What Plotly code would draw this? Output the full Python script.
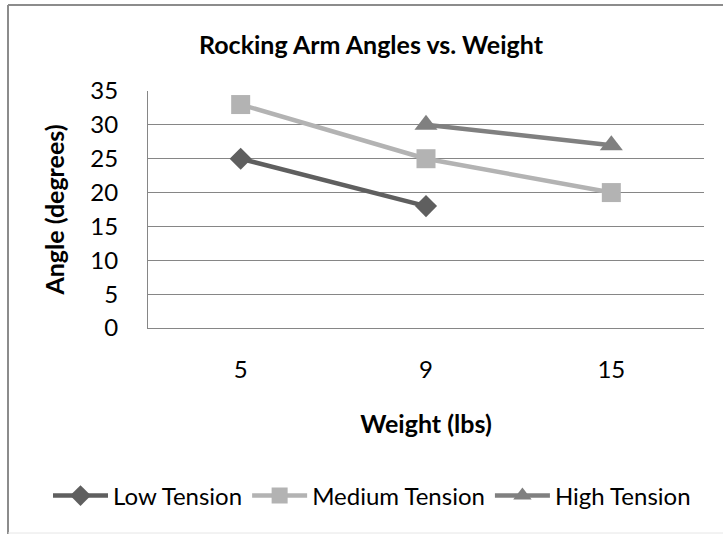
import plotly.graph_objects as go

W, H = 723, 534

weights = ["5", "9", "15"]
low_tension = [25, 18, None]
medium_tension = [33, 25, 20]
high_tension = [None, 30, 27]

FONT = "Lato"
GRID = "#868686"

fig = go.Figure()
fig.add_trace(go.Scatter(
    x=weights, y=low_tension, name="Low Tension", mode="lines+markers",
    line=dict(color="#5f5f5f", width=4.5),
    marker=dict(symbol="diamond", size=17, color="#5f5f5f"),
    connectgaps=False))
fig.add_trace(go.Scatter(
    x=weights, y=medium_tension, name="Medium Tension", mode="lines+markers",
    line=dict(color="#b3b3b3", width=4.5),
    marker=dict(symbol="square", size=19, color="#b3b3b3"),
    connectgaps=False))
fig.add_trace(go.Scatter(
    x=weights, y=high_tension, name="High Tension", mode="lines+markers",
    line=dict(color="#808080", width=4.5),
    marker=dict(symbol="triangle-up", size=20, color="#808080"),
    connectgaps=False))

def px_x(v):
    return v / W

def px_y(v):
    return 1 - v / H

fig.update_layout(
    width=W, height=H,
    margin=dict(l=0, r=0, t=0, b=0),
    paper_bgcolor="white", plot_bgcolor="white",
    font=dict(family=FONT, size=24, color="#000000"),
    title=dict(text="<b>Rocking Arm Angles vs. Weight</b>",
               x=px_x(371), y=px_y(45), xanchor="center", yanchor="middle",
               xref="paper", yref="paper",
               font=dict(family=FONT, size=25, color="#000000")),
    xaxis=dict(type="category", range=[-0.5, 2.5],
               domain=[px_x(148), px_x(704)],
               showline=True, linecolor=GRID, linewidth=1,
               showgrid=False, ticks="", ticklabelstandoff=20,
               automargin=False, fixedrange=True,
               title=dict(text="<b>Weight (lbs)</b>", standoff=33,
                          font=dict(family=FONT, size=25))),
    yaxis=dict(range=[0, 35], dtick=5, domain=[px_y(328), px_y(91)],
               showline=True, linecolor=GRID, linewidth=1,
               showgrid=True, gridcolor=GRID, gridwidth=1,
               zeroline=False, ticks="", ticklabelstandoff=24,
               automargin=False, fixedrange=True,
               title=dict(text="<b>Angle (degrees)</b>", standoff=18,
                          font=dict(family=FONT, size=25))),
    legend=dict(orientation="h", x=px_x(48), y=px_y(496),
                xanchor="left", yanchor="middle",
                font=dict(family=FONT, size=24),
                itemwidth=55, tracegroupgap=0,
                bgcolor="rgba(0,0,0,0)"),
    showlegend=True,
)

# chart-area border (cropped at right/bottom)
fig.add_shape(type="line", xref="paper", yref="paper",
              x0=px_x(8), x1=1.01, y0=px_y(5), y1=px_y(5),
              line=dict(color="#8c8c8c", width=2))
fig.add_shape(type="line", xref="paper", yref="paper",
              x0=px_x(8), x1=px_x(8), y0=px_y(5), y1=-0.01,
              line=dict(color="#8c8c8c", width=2))
fig.add_shape(type="line", xref="paper", yref="paper",
              x0=px_x(8), x1=1.01, y0=px_y(533), y1=px_y(533),
              line=dict(color="#e6e6e6", width=1))

fig.write_html("out.html")
